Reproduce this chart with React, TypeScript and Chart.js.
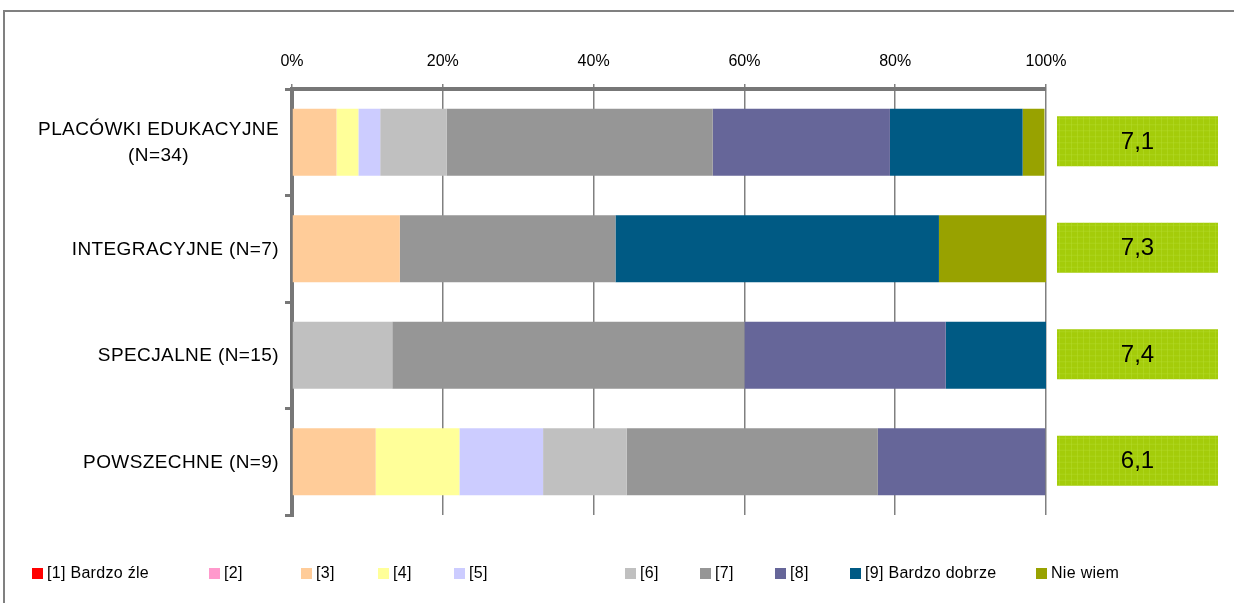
import React, { useEffect, useRef } from "react";
import { Chart, registerables } from "chart.js";

Chart.register(...registerables);

// ---- Data ----
const CATEGORIES: (string | string[])[] = [
  ["PLACÓWKI EDUKACYJNE", "(N=34)"],
  "INTEGRACYJNE (N=7)",
  "SPECJALNE (N=15)",
  "POWSZECHNE (N=9)",
];
const SERIES_LABELS = [
  "[1] Bardzo źle",
  "[2]",
  "[3]",
  "[4]",
  "[5]",
  "[6]",
  "[7]",
  "[8]",
  "[9] Bardzo dobrze",
  "Nie wiem",
];
const S1 = [0, 0, 0, 0];
const S2 = [0, 0, 0, 0];
const S3 = [5.9, 14.3, 0, 11.1];
const S4 = [2.9, 0, 0, 11.1];
const S5 = [2.9, 0, 0, 11.1];
const S6 = [8.8, 0, 13.3, 11.1];
const S7 = [35.3, 28.6, 46.7, 33.3];
const S8 = [23.5, 0, 26.7, 22.2];
const S9 = [17.6, 42.9, 13.3, 0];
const NIE_WIEM = [2.9, 14.2, 0, 0];
const MEANS = ["7,1", "7,3", "7,4", "6,1"];
const X_MAX = 100;
const X_STEP = 20;

// ---- Styles / layout ----
const COLORS = [
  "#FF0000",
  "#FF99CC",
  "#FFCC99",
  "#FFFF99",
  "#CCCCFF",
  "#C0C0C0",
  "#969696",
  "#666699",
  "#005A84",
  "#98A200",
];
const FONT = "'Liberation Sans', Arial, sans-serif";
const W = 1234;
const H = 603;
const LEGEND_X = [32, 209, 301, 378, 454, 625, 700, 775, 850, 1036];

const overlayPlugin = {
  id: "overlay",
  afterDraw(chart: any) {
    const ctx = chart.ctx as CanvasRenderingContext2D & { letterSpacing?: string };
    const yScale = chart.scales.y;
    const area = chart.chartArea;
    ctx.save();

    // outer frame
    ctx.strokeStyle = "#808080";
    ctx.lineWidth = 2;
    ctx.beginPath();
    ctx.moveTo(4, H + 2);
    ctx.lineTo(4, 11);
    ctx.lineTo(W + 2, 11);
    ctx.stroke();

    // category labels: block right-aligned, lines centered within block
    ctx.font = `19px ${FONT}`;
    ctx.letterSpacing = "0.4px";
    ctx.fillStyle = "#000";
    ctx.textBaseline = "middle";
    ctx.textAlign = "center";
    const lineH = 26;
    const rightEdge = area.left - 13;
    CATEGORIES.forEach((lab, i) => {
      const lines = Array.isArray(lab) ? lab : [lab];
      const maxW = Math.max(...lines.map((l) => ctx.measureText(l).width));
      const cx = rightEdge - maxW / 2;
      const cy = yScale.getPixelForValue(i) + 1;
      lines.forEach((l, k) => {
        ctx.fillText(l, cx, cy + (k - (lines.length - 1) / 2) * lineH);
      });
    });
    ctx.letterSpacing = "0px";

    // mean boxes
    const bx0 = area.right + 11;
    const bx1 = W - 16;
    MEANS.forEach((m, i) => {
      const cy = yScale.getPixelForValue(i) - 1;
      ctx.fillStyle = "#A4CC0A";
      ctx.fillRect(bx0, cy - 25, bx1 - bx0, 50);
      // subtle texture
      ctx.fillStyle = "rgba(190,225,60,0.35)";
      for (let x = bx0 + 2; x < bx1; x += 6) ctx.fillRect(x, cy - 25, 1, 50);
      for (let y = cy - 23; y < cy + 25; y += 6) ctx.fillRect(bx0, y, bx1 - bx0, 1);
      ctx.fillStyle = "#000";
      ctx.font = `24px ${FONT}`;
      ctx.textAlign = "center";
      ctx.fillText(m, (bx0 + bx1) / 2, cy + 1);
    });

    // legend
    ctx.font = `16px ${FONT}`;
    ctx.letterSpacing = "0.3px";
    ctx.textAlign = "left";
    const ly = 574;
    SERIES_LABELS.forEach((lab, i) => {
      const x = LEGEND_X[i];
      ctx.fillStyle = COLORS[i];
      ctx.fillRect(x, ly - 6, 11, 11);
      ctx.fillStyle = "#000";
      ctx.fillText(lab, x + 15, ly);
    });

    ctx.restore();
  },
};

export default function App() {
  const ref = useRef<HTMLCanvasElement>(null);

  useEffect(() => {
    if (!ref.current) return;
    const series = [S1, S2, S3, S4, S5, S6, S7, S8, S9, NIE_WIEM];
    const chart = new Chart(ref.current, {
      type: "bar",
      data: {
        labels: CATEGORIES as any,
        datasets: series.map((d, i) => ({
          label: SERIES_LABELS[i],
          data: d,
          backgroundColor: COLORS[i],
          borderWidth: 0,
          barPercentage: 0.63,
          categoryPercentage: 1,
        })),
      },
      options: {
        indexAxis: "y",
        responsive: false,
        animation: false,
        devicePixelRatio: 1,
        layout: { padding: { left: 0, right: W - 1046, top: 0, bottom: H - 515 } },
        plugins: {
          legend: { display: false },
          tooltip: { enabled: false },
        },
        scales: {
          x: {
            position: "top",
            stacked: true,
            min: 0,
            max: X_MAX,
            ticks: {
              stepSize: X_STEP,
              callback: (v: any) => `${v}%`,
              color: "#000",
              font: { family: FONT, size: 16 },
              padding: 13,
            },
            grid: {
              color: "#808080",
              lineWidth: 1.5,
              tickLength: 5,
            },
            border: { display: true, color: "#777777", width: 4 },
            afterFit: (s: any) => {
              s.height = 89;
            },
          },
          y: {
            stacked: true,
            ticks: { display: false },
            grid: {
              drawOnChartArea: false,
              offset: true,
              tickLength: 7,
              color: "#777777",
              lineWidth: 3,
            },
            border: { display: true, color: "#777777", width: 4 },
            afterFit: (s: any) => {
              s.width = 292;
            },
          },
        },
      },
      plugins: [overlayPlugin],
    });
    return () => chart.destroy();
  }, []);

  return (
    <div style={{ position: "absolute", left: 0, top: 0, width: W, height: H, background: "#fff" }}>
      <canvas ref={ref} width={W} height={H} style={{ display: "block" }} />
    </div>
  );
}
